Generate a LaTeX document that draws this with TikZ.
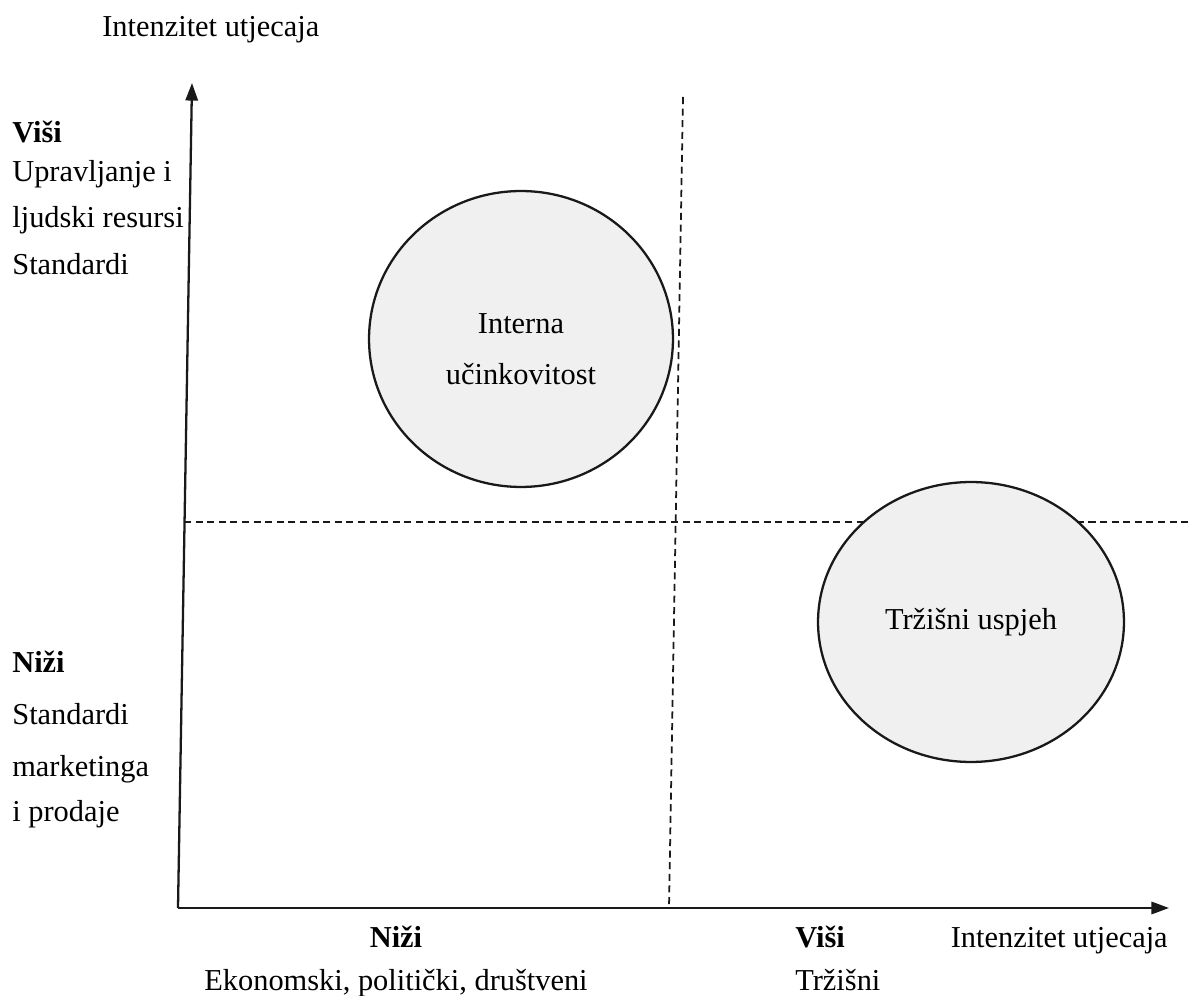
\documentclass[tikz,border=0pt]{standalone}
\usepackage{fontspec}
\setmainfont{Liberation Serif}
\usepackage{tikz}
\usetikzlibrary{arrows.meta, shapes.geometric}
\definecolor{ink}{RGB}{25,25,25}
\definecolor{discfill}{RGB}{240,240,240}
\tikzset{
  axis/.style={draw=ink, line width=1.3pt, -{Triangle[length=10pt,width=7pt]}},
  divider/.style={draw=ink, line width=1pt, dash pattern=on 4pt off 2.6pt},
  zone/.style={
    ellipse, draw=ink, line width=1.3pt, fill=discfill,
    inner sep=0pt, align=center, font=\fontsize{17.3}{29.5}\selectfont
  },
  lbl/.style={inner sep=0pt, anchor=base west, font=\fontsize{17.3}{20}\selectfont},
}
\begin{document}
\begin{tikzpicture}[x=0.02cm, y=-0.02cm]
  \useasboundingbox (0,0) rectangle (1191,996);
  \coordinate (O) at (178,908);
  \coordinate (Ytop) at (192,83);
  \coordinate (Xend) at (1169,908);
  \coordinate (Vtop) at (683,97);
  \coordinate (Vbot) at (669,908);
  \coordinate (Hleft) at (184,522);
  \coordinate (Hright) at (1191,522);

  \draw[divider] (Vtop) -- (Vbot);
  \draw[divider] (Hleft) -- (Hright);

  \node[zone, minimum width=6.08cm, minimum height=5.92cm] (INT) at (521,339) {\rule{0pt}{23pt}Interna\\učinkovitost};
  \node[zone, minimum width=6.12cm, minimum height=5.6cm] (MKT) at (971,622) {Tržišni uspjeh};

  \draw[axis] (O) -- (Ytop);
  \draw[axis] (O) -- (Xend);

  \node[lbl] (yTitle) at (102,37) {Intenzitet utjecaja};
  \node[lbl] (yHi) at (12,143) {\textbf{Viši}};
  \node[lbl] (yHi1) at (12,182) {Upravljanje i};
  \node[lbl] (yHi2) at (12,228) {ljudski resursi};
  \node[lbl] (yHi3) at (12,275) {Standardi};
  \node[lbl] (yLo) at (12,673) {\textbf{Niži}};
  \node[lbl] (yLo1) at (12,725) {Standardi};
  \node[lbl] (yLo2) at (12,777) {marketinga};
  \node[lbl] (yLo3) at (12,822) {i prodaje};

  \node[lbl, anchor=base] (xLo) at (396,948) {\textbf{Niži}};
  \node[lbl, anchor=base] (xLo1) at (396,990) {Ekonomski, politički, društveni};
  \node[lbl] (xHi) at (795,948) {\textbf{Viši}};
  \node[lbl] (xHi1) at (795,990) {Tržišni};
  \node[lbl, anchor=base east] (xTitle) at (1168,948) {Intenzitet utjecaja};
\end{tikzpicture}
\end{document}
